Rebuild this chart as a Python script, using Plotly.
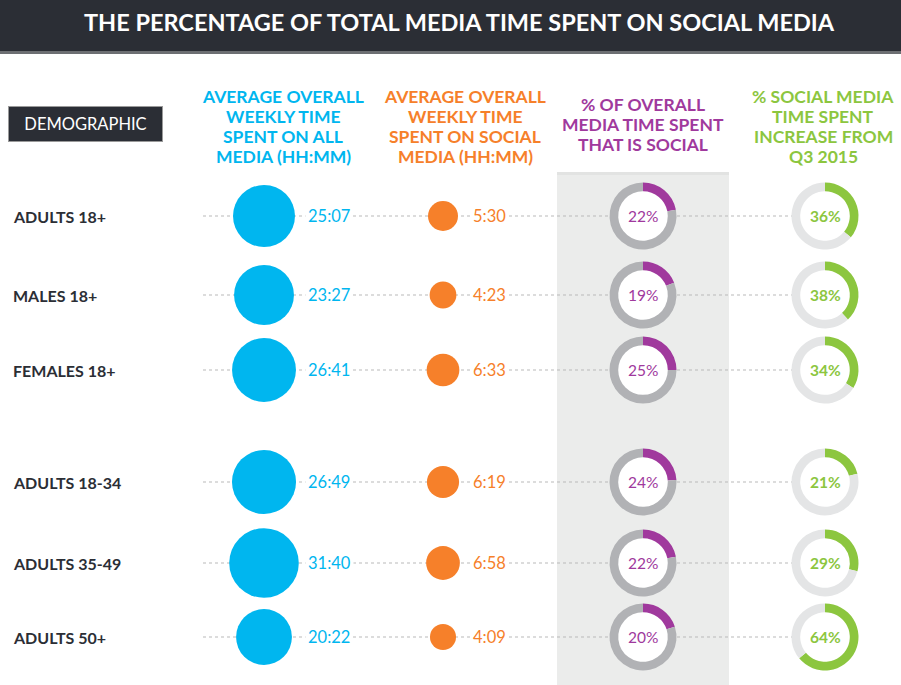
import plotly.graph_objects as go
import math

# ---------------- data ----------------
title = "THE PERCENTAGE OF TOTAL MEDIA TIME SPENT ON SOCIAL MEDIA"
demographics = ["ADULTS 18+", "MALES 18+", "FEMALES 18+", "ADULTS 18-34", "ADULTS 35-49", "ADULTS 50+"]
all_media_time = ["25:07", "23:27", "26:41", "26:49", "31:40", "20:22"]
social_media_time = ["5:30", "4:23", "6:33", "6:19", "6:58", "4:09"]
pct_social = [22, 19, 25, 24, 22, 20]
pct_increase = [36, 38, 34, 21, 29, 64]
headers = [
    ["AVERAGE OVERALL", "WEEKLY TIME", "SPENT ON ALL", "MEDIA (HH:MM)"],
    ["AVERAGE OVERALL", "WEEKLY TIME", "SPENT ON SOCIAL", "MEDIA (HH:MM)"],
    ["% OF OVERALL", "MEDIA TIME SPENT", "THAT IS SOCIAL"],
    ["% SOCIAL MEDIA", "TIME SPENT", "INCREASE FROM", "Q3 2015"],
]

# ---------------- layout constants ----------------
W, H = 901, 685
row_y = [216, 295, 370, 482, 563, 637]
X_LABEL = 11
X_BLUE = 264
X_BLUE_TXT = 305
X_ORANGE = 443
X_ORANGE_TXT = 470
X_PURPLE = 643
X_GREEN = 825
DONUT_D = 67

BLUE = "#00b6ef"
ORANGE = "#f6802a"
PURPLE = "#a0399d"
GREEN = "#8cc63f"
DARK = "#2b2e35"
FONT = "Lato"


def to_hours(s):
    h, m = s.split(":")
    return int(h) + int(m) / 60


blue_d = [62 * math.sqrt(to_hours(v) / to_hours(all_media_time[0])) for v in all_media_time]
orange_d = [30 * math.sqrt(to_hours(v) / to_hours(social_media_time[0])) for v in social_media_time]

fig = go.Figure()

# dotted connector lines
for y in row_y:
    fig.add_trace(go.Scatter(x=[203, 800], y=[y, y], mode="lines",
                             line=dict(color="#b9b9b9", width=1, dash="dot"),
                             hoverinfo="skip", showlegend=False))

# blue circles
fig.add_trace(go.Scatter(x=[X_BLUE] * len(row_y), y=row_y, mode="markers",
                         marker=dict(size=blue_d, color=BLUE, opacity=1, line=dict(width=0)),
                         hoverinfo="skip", showlegend=False))
# orange circles
fig.add_trace(go.Scatter(x=[X_ORANGE] * len(row_y), y=row_y, mode="markers",
                         marker=dict(size=orange_d, color=ORANGE, opacity=1, line=dict(width=0)),
                         hoverinfo="skip", showlegend=False))
# white centres behind donut holes
fig.add_trace(go.Scatter(x=[X_PURPLE] * len(row_y) + [X_GREEN] * len(row_y),
                         y=row_y + row_y, mode="markers",
                         marker=dict(size=DONUT_D - 4, color="white", opacity=1, line=dict(width=0)),
                         hoverinfo="skip", showlegend=False))


def dom(cx, cy, d):
    r = d / 2
    return dict(x=[(cx - r) / W, (cx + r) / W], y=[1 - (cy + r) / H, 1 - (cy - r) / H])


for i, y in enumerate(row_y):
    fig.add_trace(go.Pie(values=[pct_social[i], 100 - pct_social[i]], hole=0.74, sort=False,
                         direction="clockwise", rotation=0, textinfo="none", hoverinfo="skip",
                         marker=dict(colors=[PURPLE, "#b1b2b5"], line=dict(width=0)),
                         domain=dom(X_PURPLE, y, DONUT_D), showlegend=False))
    fig.add_trace(go.Pie(values=[pct_increase[i], 100 - pct_increase[i]], hole=0.74, sort=False,
                         direction="clockwise", rotation=0, textinfo="none", hoverinfo="skip",
                         marker=dict(colors=[GREEN, "#e4e5e6"], line=dict(width=0)),
                         domain=dom(X_GREEN, y, DONUT_D), showlegend=False))

ann = []
# title
ann.append(dict(x=459, y=22, text=title, showarrow=False, xanchor="center", yanchor="middle",
                font=dict(family=FONT, size=23.5, color="white", weight=700)))
# demographic box
ann.append(dict(x=85.5, y=124, text="DEMOGRAPHIC", showarrow=False, xanchor="center", yanchor="middle",
                font=dict(family=FONT, size=16.5, color="white"), bgcolor=DARK,
                bordercolor="#9a9a9a", borderwidth=1, borderpad=8, width=137, height=18))
# headers (one annotation per line)
hx = [283, 465, 643, 823]
hy0 = [96, 96, 104, 96]
hc = [BLUE, ORANGE, PURPLE, GREEN]
for lines, x, y0, c in zip(headers, hx, hy0, hc):
    for k, t in enumerate(lines):
        ann.append(dict(x=x, y=y0 + 20 * k, text=t, showarrow=False, xanchor="center",
                        yanchor="middle", font=dict(family=FONT, size=17.5, color=c, weight=700)))

for i, y in enumerate(row_y):
    ann.append(dict(x=X_LABEL, y=y, text=demographics[i], showarrow=False, xanchor="left",
                    yanchor="middle", font=dict(family=FONT, size=16, color=DARK, weight=700)))
    ann.append(dict(x=X_BLUE_TXT, y=y, text=all_media_time[i], showarrow=False, xanchor="left",
                    yanchor="middle", bgcolor="white", borderpad=2,
                    font=dict(family=FONT, size=16.5, color=BLUE)))
    ann.append(dict(x=X_ORANGE_TXT, y=y, text=social_media_time[i], showarrow=False, xanchor="left",
                    yanchor="middle", bgcolor="white", borderpad=2,
                    font=dict(family=FONT, size=16.5, color=ORANGE)))
    ann.append(dict(x=X_PURPLE, y=y, text=f"{pct_social[i]}%", showarrow=False, xanchor="center",
                    yanchor="middle", font=dict(family=FONT, size=15.5, color=PURPLE)))
    ann.append(dict(x=X_GREEN, y=y, text=f"{pct_increase[i]}%", showarrow=False, xanchor="center",
                    yanchor="middle", font=dict(family=FONT, size=15.5, color=GREEN, weight=700)))

shapes = [
    dict(type="rect", xref="x", yref="y", x0=0, x1=W, y0=0, y1=51, fillcolor=DARK,
         line=dict(width=0), layer="below"),
    dict(type="rect", xref="x", yref="y", x0=0, x1=W, y0=51, y1=54, fillcolor="#6d6f73",
         line=dict(width=0), layer="below"),
    dict(type="rect", xref="x", yref="y", x0=557, x1=729, y0=172, y1=H, fillcolor="#ebeceb",
         line=dict(width=0), layer="below"),
    dict(type="rect", xref="x", yref="y", x0=557, x1=729, y0=172, y1=175, fillcolor="#e2e3e2",
         line=dict(width=0), layer="below"),
]

fig.update_layout(
    width=W, height=H, margin=dict(l=0, r=0, t=0, b=0),
    paper_bgcolor="white", plot_bgcolor="white",
    xaxis=dict(range=[0, W], visible=False, fixedrange=True),
    yaxis=dict(range=[H, 0], visible=False, fixedrange=True),
    annotations=ann, shapes=shapes, showlegend=False,
)

fig.write_html("out.html", config={"displayModeBar": False},
               post_script="document.body.style.margin='0';document.body.style.overflow='hidden';")
